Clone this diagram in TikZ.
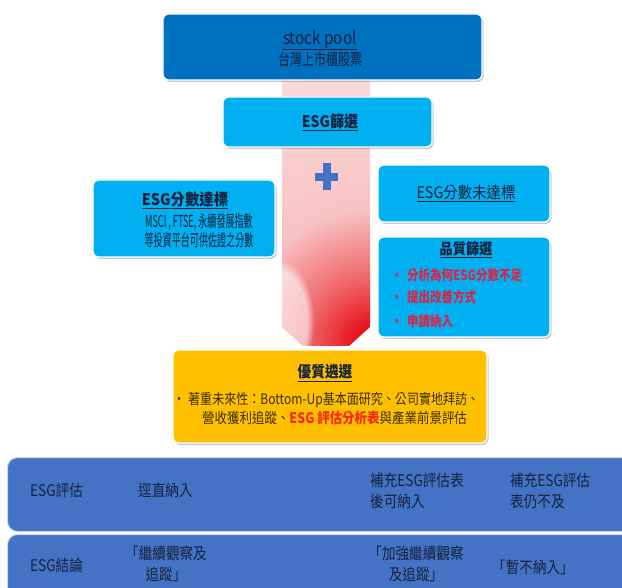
\documentclass[tikz,border=0pt]{standalone}
\usepackage{fontspec}
\setmainfont{Noto Sans CJK TC}
\usetikzlibrary{shadows,fadings}
\definecolor{poolblue}{HTML}{0070C0}
\definecolor{lightblue}{HTML}{00B0F0}
\definecolor{gold}{HTML}{FFC000}
\definecolor{rowblue}{HTML}{4472C4}
\definecolor{navytext}{HTML}{14223C}
\definecolor{goldtext}{HTML}{3A2F05}
\definecolor{redtext}{HTML}{DC2448}
\definecolor{orred}{HTML}{F5290F}
\definecolor{plusblue}{HTML}{4472C4}
\definecolor{arrRed}{HTML}{E6141C}
\definecolor{arrMid}{HTML}{F06A6E}
\definecolor{arrPink}{HTML}{F8C2C2}
\definecolor{arrLight}{HTML}{FCDEDE}
\newcommand{\fz}[3]{\fontspec{Noto Sans CJK TC}[FakeStretch=#1]\fontsize{#2}{#3}\selectfont}
\pgfdeclareradialshading{arrrad}{\pgfpoint{0bp}{0bp}}{color(0bp)=(arrRed); color(20bp)=(arrRed); color(70bp)=(arrMid); color(135bp)=(arrPink); color(300bp)=(arrLight)}
\tikzset{
  box/.style={draw=white, line width=1.2pt, rounded corners=6pt, inner sep=0pt,
    drop shadow={shadow xshift=1.5pt, shadow yshift=-2pt, opacity=0.35, fill=black!60}},
  rowbox/.style={draw=white!70!rowblue, line width=1pt, rounded corners=10pt, inner sep=0pt, fill=rowblue},
  txt/.style={inner sep=0pt, text=navytext, align=center},
  rowfont/.style={font=\fz{0.85}{16}{21}},
}
\begin{document}
\begin{tikzpicture}[x=1pt,y=-1pt]
\useasboundingbox (0,0) rectangle (622,588);
% pink arrow
\begin{scope}
  \clip (282,80) -- (282,327) -- (303,346) -- (349,346) -- (370,327) -- (370,80) -- cycle;
  \node[inner sep=0pt] (arrshade) at (374,345) {\pgfuseshading{arrrad}};
  \fill[white, path fading=circle with fuzzy edge 20 percent, opacity=0.6] (280,322) ellipse (34 and 62);
\end{scope}
% boxes
\node[box, fill=poolblue, minimum width=319pt, minimum height=66pt] (pool) at (322.5,47) {};
\node[box, fill=lightblue, minimum width=209pt, minimum height=50pt] (screen) at (327.5,122) {};
\node[box, fill=lightblue, minimum width=182pt, minimum height=77pt] (pass) at (184,218.5) {};
\node[box, fill=lightblue, minimum width=172pt, minimum height=57pt] (fail) at (464,193.5) {};
\node[box, fill=lightblue, minimum width=172pt, minimum height=100pt] (quality) at (464,287) {};
\node[box, fill=gold, minimum width=314pt, minimum height=93pt] (select) at (330,396.5) {};
\node[rowbox, minimum width=640pt, minimum height=74pt, anchor=north west] (row1) at (7,457) {};
\node[rowbox, minimum width=640pt, minimum height=74pt, anchor=north west] (row2) at (7,534) {};
% plus sign
\fill[plusblue] (315,173) rectangle (338,181);
\fill[plusblue] (323,163) rectangle (331,190);
% texts
\node[txt, font=\fz{0.85}{18}{21}] (pooltxt) at (320,48) {\underline{stock pool}\\\fz{0.75}{16}{19}台灣上市櫃股票};
\node[txt, font=\fz{0.88}{16}{19}\bfseries] (screentxt) at (330,122) {\underline{ESG篩選}};
\node[txt, font=\fz{0.9}{16}{19}\bfseries] (passtitle) at (185,200) {\underline{ESG分數達標}};
\node[txt, font=\fz{0.55}{16.5}{18.5}] (passbody) at (199,231) {MSCI , FTSE, 永續發展指數\\等投資平台可供佐證之分數};
\node[txt, font=\fz{0.9}{16}{19}] (failtxt) at (466,193) {\underline{ESG分數未達標}};
\node[txt, font=\fz{0.88}{15}{18}\bfseries] (qtitle) at (466,250) {\underline{品質篩選}};
\node[txt, text=redtext, anchor=west, font=\fz{0.82}{14}{18}\bfseries] (q1) at (391,275) {\makebox[16pt][l]{•}分析為何ESG分數不足};
\node[txt, text=redtext, anchor=west, font=\fz{0.82}{14}{18}\bfseries] (q2) at (391,297) {\makebox[16pt][l]{•}提出改善方式};
\node[txt, text=redtext, anchor=west, font=\fz{0.82}{14}{18}\bfseries] (q3) at (391,321) {\makebox[16pt][l]{•}申請納入};
\node[txt, font=\fz{0.88}{15.5}{19}\bfseries] (seltitle) at (325,373) {\underline{優質遴選}};
\node[txt, text=goldtext, anchor=west, font=\fz{0.83}{14.5}{18}] (sel1) at (173,400) {\makebox[15pt][l]{•}著重未來性：Bottom-Up基本面研究、公司實地拜訪、};
\node[txt, text=goldtext, anchor=west, font=\fz{0.86}{14.5}{18}] (sel2) at (202,418) {營收獲利追蹤、\textcolor{orred}{\bfseries ESG 評估分析表}與產業前景評估};
\node[txt, anchor=west, rowfont] (r1a) at (30,490) {ESG評估};
\node[txt, anchor=west, rowfont] (r1b) at (138,490) {逕直納入};
\node[txt, anchor=west, align=left, rowfont] (r1c) at (370,491) {補充ESG評估表\\後可納入};
\node[txt, anchor=west, align=left, rowfont] (r1d) at (510,491) {補充ESG評估\\表仍不及};
\node[txt, anchor=west, rowfont] (r2a) at (30,565) {ESG結論};
\node[txt, rowfont] (r2b) at (166,564) {「繼續觀察及\\追蹤」};
\node[txt, rowfont] (r2c) at (416,564) {「加強繼續觀察\\及追蹤」};
\node[txt, rowfont] (r2d) at (533,567) {「暫不納入」};
\end{tikzpicture}
\end{document}
